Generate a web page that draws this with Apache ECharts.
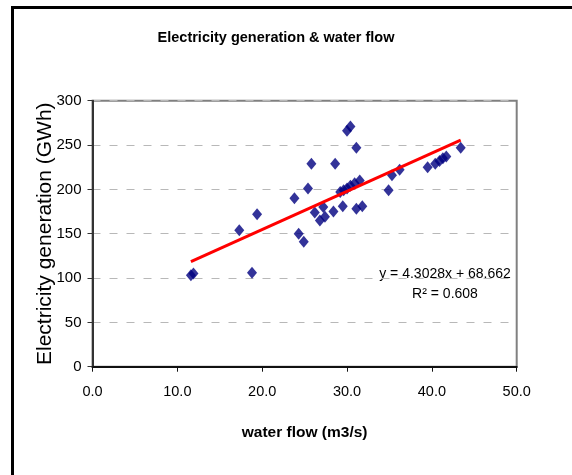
<!DOCTYPE html>
<html>
<head>
<meta charset="utf-8">
<script src="https://cdn.jsdelivr.net/npm/echarts@6/dist/echarts.min.js"></script>
<style>
html,body{margin:0;padding:0;background:#fff;}
#chart{width:572px;height:475px;}
</style>
</head>
<body>
<div id="chart"></div>
<script>
// Data
var waterFlow = [11.6, 11.9, 18.8, 17.3, 19.4, 23.8, 24.3, 24.9, 25.4, 25.8,
                 26.2, 26.8, 27.2, 27.4, 28.4, 28.6, 29.5, 29.2, 29.6, 30.0,
                 30.4, 30.9, 31.5, 30.0, 30.4, 31.1, 31.1, 31.8, 34.9, 35.3,
                 36.2, 39.5, 40.4, 40.9, 41.3, 41.7, 43.4];
var generation = [103, 105, 106, 154, 172, 190, 150, 141, 201, 229,
                  174, 165, 180, 169, 175, 229, 181, 197, 199, 201,
                  204, 207, 210, 266, 271, 247, 178, 181, 199, 216,
                  222, 225, 229, 232, 235, 237, 247];
var trendSlope = 4.3028;
var trendIntercept = 68.662;
var xTicks = [0, 10, 20, 30, 40, 50];
var yTicks = [0, 50, 100, 150, 200, 250, 300];
var equationText = 'y = 4.3028x + 68.662';
var r2Text = 'R\u00B2 = 0.608';

var points = waterFlow.map(function (x, i) { return [x, generation[i]]; });
var xMin = Math.min.apply(null, waterFlow);
var xMax = Math.max.apply(null, waterFlow);
var trend = [[xMin, trendSlope * xMin + trendIntercept], [xMax, trendSlope * xMax + trendIntercept]];

var FONT = "'Liberation Sans', Arial, sans-serif";
var chart = echarts.init(document.getElementById('chart'));
chart.setOption({
  animation: false,
  title: {
    text: 'Electricity generation & water flow',
    left: 271, top: 25, textAlign: 'center',
    textStyle: { fontFamily: FONT, fontSize: 14.5, fontWeight: 'bold', color: '#000' }
  },
  grid: {
    left: 92.5, top: 100.7, right: 55.3, bottom: 108.3,
    show: true, borderColor: '#808080', borderWidth: 2, backgroundColor: 'transparent'
  },
  xAxis: {
    type: 'value', min: xTicks[0], max: xTicks[xTicks.length - 1], interval: 10,
    name: 'water flow (m3/s)', nameLocation: 'middle', nameGap: 58, nameMoveOverlap: false,
    nameTextStyle: { fontFamily: FONT, fontSize: 15.5, fontWeight: 'bold', color: '#000' },
    axisLine: { show: true, onZero: false, lineStyle: { color: '#111', width: 2 } },
    axisTick: { show: true, length: 5, lineStyle: { color: '#111', width: 1 } },
    axisLabel: { margin: 18, fontFamily: FONT, fontSize: 14.5, color: '#000',
      formatter: function (v) { return v.toFixed(1); } },
    splitLine: { show: false }
  },
  yAxis: {
    type: 'value', min: yTicks[0], max: yTicks[yTicks.length - 1], interval: 50,
    name: 'Electricity generation (GWh)', nameLocation: 'middle', nameGap: 37, nameRotate: 90,
    nameMoveOverlap: false,
    nameTextStyle: { fontFamily: FONT, fontSize: 21, color: '#000' },
    axisLine: { show: true, onZero: false, lineStyle: { color: '#333', width: 2 } },
    axisTick: { show: true, length: 5, lineStyle: { color: '#333', width: 1 } },
    axisLabel: { margin: 11, fontFamily: FONT, fontSize: 15, color: '#000' },
    splitLine: { show: true, lineStyle: { color: '#b8b8b8', width: 1, type: [8, 9] } }
  },
  graphic: [
    { type: 'rect', left: 10, top: 5, shape: { x: 0, y: 0, width: 620, height: 520 },
      style: { fill: 'none', stroke: '#000', lineWidth: 3 }, silent: true },
    { type: 'text', x: 445, y: 274, style: { text: equationText, fontFamily: FONT, fontSize: 14,
      fill: '#000', align: 'center', verticalAlign: 'middle' } },
    { type: 'text', x: 445, y: 294, style: { text: r2Text, fontFamily: FONT, fontSize: 14,
      fill: '#000', align: 'center', verticalAlign: 'middle' } }
  ],
  series: [
    {
      type: 'scatter', data: points, symbol: 'diamond', symbolSize: [10, 12],
      itemStyle: { color: '#000080' }, z: 3
    },
    {
      type: 'line', data: trend, symbol: 'none', z: 4,
      lineStyle: { color: '#ff0000', width: 3 }
    }
  ]
});
</script>
</body>
</html>
